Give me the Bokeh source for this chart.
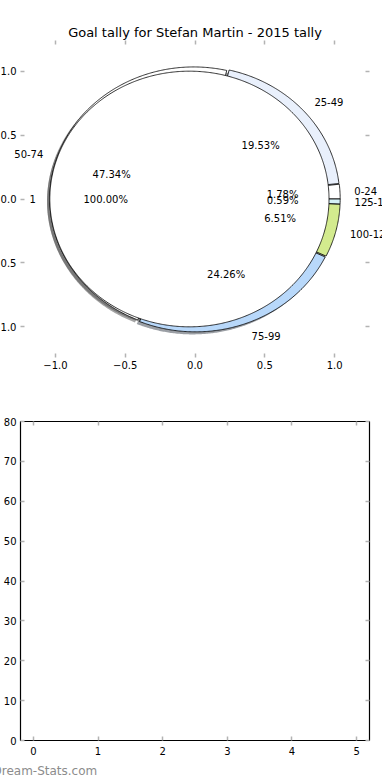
import numpy as np
from bokeh.plotting import figure
from bokeh.models import ColumnDataSource, Label, LinearAxis, FixedTicker, Range1d
from bokeh.layouts import column
from bokeh.embed import file_html
from bokeh.resources import INLINE

# ---------------- data ----------------
chart_title = "Goal tally for Stefan Martin - 2015 tally"
outer_labels = ["0-24", "25-49", "50-74", "75-99", "100-124", "125-149"]
outer_pcts = [1.78, 19.53, 47.34, 24.26, 6.51, 0.59]
inner_labels = ["1"]
inner_pcts = [100.00]
pie_ticks = [-1.0, -0.5, 0.0, 0.5, 1.0]
pie_tick_labels = ["\u22121.0", "\u22120.5", "0.0", "0.5", "1.0"]
bar_categories = []
bar_values = []
bar_x_ticks = [0, 1, 2, 3, 4, 5]
bar_y_ticks = [0, 10, 20, 30, 40, 50, 60, 70, 80]
watermark = "Dream-Stats.com"

# ---------------- styles / layout ----------------
outer_colors = ["#ffffff", "#e9f0fc", "#ffffff", "#b8d8fa", "#d3eb8e", "#d5f2f7"]
inner_colors = ["#ffffff"]
FONT = "DejaVu Sans"
TICK_COLOR = "#b3b3b3"

P1_W, P1_H = 394, 382
P1_BL, P1_BR, P1_BT, P1_BB = 32, 13, 32, 33
P2_H = 388
X0, X1 = -1.25, 1.25
Y0, Y1 = -1.24, 1.24


def pie_geometry(pcts, radius, explode, full_circle=False):
    vals = np.asarray(pcts, dtype=float)
    fr = vals / vals.sum()
    ends = np.cumsum(fr) * 360.0
    starts = ends - fr * 360.0
    out = []
    for a0, a1 in zip(starts, ends):
        mid = np.deg2rad((a0 + a1) / 2.0)
        cx, cy = explode * np.cos(mid), explode * np.sin(mid)
        n = max(3, int((a1 - a0) * 2))
        th = np.deg2rad(np.linspace(a0, a1, n))
        xs = cx + radius * np.cos(th)
        ys = cy + radius * np.sin(th)
        if not full_circle:
            xs = np.concatenate([[cx], xs])
            ys = np.concatenate([[cy], ys])
        out.append(dict(xs=list(xs), ys=list(ys), cx=cx, cy=cy, mid=mid))
    return out


def shadow_color(hexc):
    r, g, b = (int(hexc[i:i + 2], 16) for i in (1, 3, 5))
    return "#%02x%02x%02x" % (int(r * 0.3), int(g * 0.3), int(b * 0.3))


R_OUT, EX_OUT = 1.03, 0.01
R_IN, EX_IN = 1.0, 0.04
SH = 0.02

outer = pie_geometry(outer_pcts, R_OUT, EX_OUT)
inner = pie_geometry(inner_pcts, R_IN, EX_IN, full_circle=True)

p1 = figure(width=P1_W, height=P1_H, x_range=Range1d(X0, X1), y_range=Range1d(Y0, Y1),
            output_backend="svg", toolbar_location=None, title=chart_title,
            min_border_left=P1_BL, min_border_right=P1_BR, min_border_top=P1_BT, min_border_bottom=P1_BB)
p1.title.text_font = FONT
p1.title.text_font_size = "13px"
p1.title.text_font_style = "normal"
p1.title.text_color = "black"
p1.title.align = "center"
p1.title.standoff = 2
p1.outline_line_color = None
p1.grid.visible = False

# shadows
sh_src = ColumnDataSource(dict(
    xs=[[x - SH for x in w["xs"]] for w in outer] + [[x - SH for x in w["xs"]] for w in inner],
    ys=[[y - SH for y in w["ys"]] for w in outer] + [[y - SH for y in w["ys"]] for w in inner],
    c=[shadow_color(c) for c in outer_colors] + [shadow_color(c) for c in inner_colors],
))
p1.patches("xs", "ys", source=sh_src, fill_color="c", fill_alpha=0.5, line_color=None)

out_src = ColumnDataSource(dict(xs=[w["xs"] for w in outer], ys=[w["ys"] for w in outer], c=outer_colors))
p1.patches("xs", "ys", source=out_src, fill_color="c", line_color="black", line_width=0.8)

in_src = ColumnDataSource(dict(xs=[w["xs"] for w in inner], ys=[w["ys"] for w in inner], c=inner_colors))
p1.patches("xs", "ys", source=in_src, fill_color="c", line_color="black", line_width=0.8)


def style_axes(p, xticks, yticks, xover=None, yover=None, xstand=4):
    p.add_layout(LinearAxis(), "above")
    p.add_layout(LinearAxis(), "right")
    for ax in p.xaxis:
        ax.ticker = FixedTicker(ticks=xticks)
    for ax in p.yaxis:
        ax.ticker = FixedTicker(ticks=yticks)
    for ax in list(p.xaxis) + list(p.yaxis):
        ax.axis_line_color = None
        ax.major_tick_in = 4
        ax.major_tick_out = 0
        ax.major_tick_line_color = TICK_COLOR
        ax.major_tick_line_width = 1.5
        ax.minor_tick_line_color = None
        ax.major_label_text_font = FONT
        ax.major_label_text_font_size = "10px"
        ax.major_label_text_color = "black"
        ax.major_label_standoff = 4
    p.below[0].major_label_standoff = xstand
    for ax in p.above + p.right:
        if isinstance(ax, LinearAxis):
            ax.major_label_text_color = None
            ax.major_label_standoff = 0
            tk = xticks if ax in p.above else yticks
            ax.major_label_overrides = {t: "" for t in tk}
    if xover:
        p.below[0].major_label_overrides = xover
    if yover:
        p.left[0].major_label_overrides = yover


ov = {t: l for t, l in zip(pie_ticks, pie_tick_labels)}
style_axes(p1, pie_ticks, pie_ticks, ov, ov, xstand=3)

# ---------------- bottom (empty bar) chart ----------------
p2 = figure(width=P1_W, height=P2_H, x_range=Range1d(-0.2, 5.2), y_range=Range1d(0, 80),
            output_backend="svg", toolbar_location=None,
            min_border_left=32, min_border_right=12, min_border_top=31, min_border_bottom=P2_H - 31 - 319)
p2.grid.visible = False
p2.outline_line_color = "black"
p2.outline_line_width = 1.2
bar_src = ColumnDataSource(dict(x=list(bar_categories), top=list(bar_values)))
p2.vbar(x="x", top="top", width=0.8, source=bar_src, fill_color="#b8d8fa", line_color="black")
style_axes(p2, bar_x_ticks, bar_y_ticks, xstand=6)

# ---------------- transparent text overlay (same data scale as the pie) ----------------
sx = (P1_W - P1_BL - P1_BR) / (X1 - X0)
sy = (P1_H - P1_BT - P1_BB) / (Y1 - Y0)
OV_H = P1_H + P2_H
ovf = figure(width=P1_W, height=OV_H,
             x_range=Range1d(X0 - P1_BL / sx, X1 + P1_BR / sx),
             y_range=Range1d(Y0 - (P1_BB + P2_H) / sy, Y1 + P1_BT / sy),
             output_backend="svg", toolbar_location=None, x_axis_location=None, y_axis_location=None,
             min_border=0, min_border_left=0, min_border_right=0, min_border_top=0, min_border_bottom=0,
             styles={"margin-top": "-%dpx" % OV_H})
if "frame_align" in ovf.properties():
    ovf.frame_align = False
ovf.background_fill_color = None
ovf.border_fill_color = None
ovf.outline_line_color = None
ovf.grid.visible = False

all_labels = outer_labels + inner_labels
all_geo = outer + inner
all_r = [R_OUT] * len(outer) + [R_IN] * len(inner)
all_pcts = outer_pcts + inner_pcts
for lab, g, r, pc in zip(all_labels, all_geo, all_r, all_pcts):
    lx = g["cx"] + 1.1 * r * np.cos(g["mid"])
    ly = g["cy"] + 1.1 * r * np.sin(g["mid"])
    px = g["cx"] + 0.6 * r * np.cos(g["mid"])
    py = g["cy"] + 0.6 * r * np.sin(g["mid"])
    ovf.add_layout(Label(x=float(lx), y=float(ly), text=lab, text_align="left" if lx >= 0 else "right",
                         text_baseline="middle", text_font=FONT, text_font_size="10px", text_color="black"))
    ovf.add_layout(Label(x=float(px), y=float(py), text="%.2f%%" % pc, text_align="center",
                         text_baseline="middle", text_font=FONT, text_font_size="10px", text_color="black"))

ovf.add_layout(Label(x=4, y=8, x_units="screen", y_units="screen", text=watermark,
                     text_font=FONT, text_font_size="12px", text_color="#8c8c8c",
                     text_baseline="alphabetic", text_align="left"))

layout = column(p1, p2, ovf, styles={"margin-left": "-12px", "margin-top": "8px"})
open("out.html", "w").write(file_html(layout, INLINE))
